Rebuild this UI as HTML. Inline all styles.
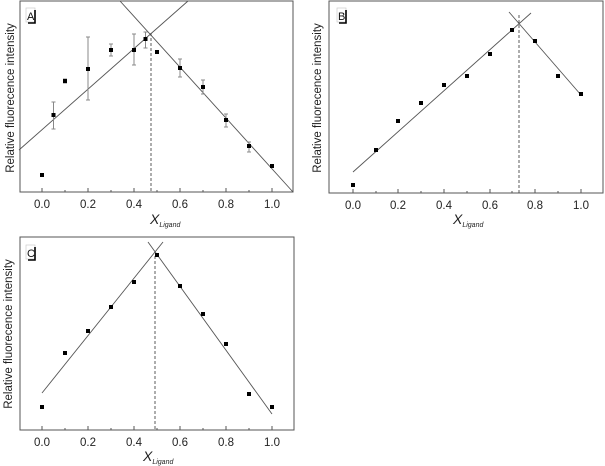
<!DOCTYPE html>
<html><head><meta charset="utf-8"><style>
html,body{margin:0;padding:0;background:#fff;}
svg{display:block;font-family:"Liberation Sans",Arial,sans-serif;}
</style></head><body>
<svg width="605" height="466" viewBox="0 0 605 466" xmlns="http://www.w3.org/2000/svg">

<!-- Panel A -->
<g>
<rect x="20" y="1" width="273" height="191" fill="none" stroke="#555" stroke-width="1"/>
<g stroke="#555" stroke-width="1">
<line x1="42" y1="192" x2="42" y2="188"/><line x1="65" y1="192" x2="65" y2="190"/>
<line x1="88" y1="192" x2="88" y2="188"/><line x1="111" y1="192" x2="111" y2="190"/>
<line x1="134" y1="192" x2="134" y2="188"/><line x1="157" y1="192" x2="157" y2="190"/>
<line x1="180" y1="192" x2="180" y2="188"/><line x1="203" y1="192" x2="203" y2="190"/>
<line x1="226" y1="192" x2="226" y2="188"/><line x1="249" y1="192" x2="249" y2="190"/>
<line x1="272" y1="192" x2="272" y2="188"/>
</g>
<g font-size="11.5" fill="#222" text-anchor="middle">
<text x="42" y="208">0.0</text><text x="88" y="208">0.2</text><text x="134" y="208">0.4</text>
<text x="180" y="208">0.6</text><text x="226" y="208">0.8</text><text x="272" y="208">1.0</text>
</g>
<text x="150" y="224" font-size="14" font-style="italic" fill="#222">X<tspan font-size="7" dy="3">Ligand</tspan></text>
<text transform="translate(14,98) rotate(-90)" font-size="11.5" fill="#222" text-anchor="middle">Relative fluorecence intensity</text>
<line x1="19" y1="150" x2="188" y2="1" stroke="#555" stroke-width="0.9"/>
<line x1="120" y1="1" x2="293" y2="192" stroke="#555" stroke-width="0.9"/>
<line x1="151" y1="33" x2="151" y2="192" stroke="#333" stroke-width="0.8" stroke-dasharray="3,2"/>
<g stroke="#888" stroke-width="1" fill="none">
<path d="M53.5 102V129M51.5 102H55.5M51.5 129H55.5"/>
<path d="M65 79V83M63 79H67M63 83H67"/>
<path d="M88 37V100M86 37H90M86 100H90"/>
<path d="M111 44V56M109 44H113M109 56H113"/>
<path d="M134 34V65M132 34H136M132 65H136"/>
<path d="M145.5 32V48M143.5 32H147.5M143.5 48H147.5"/>
<path d="M180 59V77M178 59H182M178 77H182"/>
<path d="M203 80V94M201 80H205M201 94H205"/>
<path d="M226 114V127M224 114H228M224 127H228"/>
<path d="M249 142V152M247 142H251M247 152H251"/>
</g>
<g fill="#000">
<rect x="40" y="173" width="4" height="4"/><rect x="51.5" y="113" width="4" height="4"/>
<rect x="63" y="79" width="4" height="4"/><rect x="86" y="67" width="4" height="4"/>
<rect x="109" y="48" width="4" height="4"/><rect x="132" y="48" width="4" height="4"/>
<rect x="143.5" y="37" width="4" height="4"/><rect x="155" y="50" width="4" height="4"/>
<rect x="178" y="66" width="4" height="4"/><rect x="201" y="85" width="4" height="4"/>
<rect x="224" y="118" width="4" height="4"/><rect x="247" y="144" width="4" height="4"/>
<rect x="270" y="164" width="4" height="4"/>
</g>
<rect x="26" y="8" width="9" height="14" fill="#fff" stroke="#ccc" stroke-width="0.7"/>
<text x="27" y="20" font-size="11" fill="#111">A</text>
<path d="M35 10V23H28" fill="none" stroke="#000" stroke-width="1.6"/>
</g>

<!-- Panel B -->
<g>
<rect x="329" y="1" width="274" height="192" fill="none" stroke="#555" stroke-width="1"/>
<g stroke="#555" stroke-width="1">
<line x1="353" y1="193" x2="353" y2="189"/><line x1="376" y1="193" x2="376" y2="191"/>
<line x1="398" y1="193" x2="398" y2="189"/><line x1="421" y1="193" x2="421" y2="191"/>
<line x1="444" y1="193" x2="444" y2="189"/><line x1="467" y1="193" x2="467" y2="191"/>
<line x1="490" y1="193" x2="490" y2="189"/><line x1="512" y1="193" x2="512" y2="191"/>
<line x1="535" y1="193" x2="535" y2="189"/><line x1="558" y1="193" x2="558" y2="191"/>
<line x1="581" y1="193" x2="581" y2="189"/>
</g>
<g font-size="11.5" fill="#222" text-anchor="middle">
<text x="353" y="209">0.0</text><text x="398" y="209">0.2</text><text x="444" y="209">0.4</text>
<text x="490" y="209">0.6</text><text x="535" y="209">0.8</text><text x="581" y="209">1.0</text>
</g>
<text x="453" y="224" font-size="14" font-style="italic" fill="#222">X<tspan font-size="7" dy="3">Ligand</tspan></text>
<text transform="translate(321,98) rotate(-90)" font-size="11.5" fill="#222" text-anchor="middle">Relative fluorecence intensity</text>
<line x1="353" y1="172" x2="531" y2="13" stroke="#555" stroke-width="0.9"/>
<line x1="509" y1="12" x2="581" y2="95" stroke="#555" stroke-width="0.9"/>
<line x1="519" y1="15" x2="519" y2="193" stroke="#333" stroke-width="0.8" stroke-dasharray="3,2"/>
<g fill="#000">
<rect x="351" y="183" width="4" height="4"/><rect x="374" y="148" width="4" height="4"/>
<rect x="396" y="119" width="4" height="4"/><rect x="419" y="101" width="4" height="4"/>
<rect x="442" y="83" width="4" height="4"/><rect x="465" y="74" width="4" height="4"/>
<rect x="488" y="52" width="4" height="4"/><rect x="510" y="28" width="4" height="4"/>
<rect x="533" y="39" width="4" height="4"/><rect x="556" y="74" width="4" height="4"/>
<rect x="579" y="92" width="4" height="4"/>
</g>
<rect x="337" y="8" width="9" height="14" fill="#fff" stroke="#ccc" stroke-width="0.7"/>
<text x="338" y="20" font-size="11" fill="#111">B</text>
<path d="M346 10V23H339" fill="none" stroke="#000" stroke-width="1.6"/>
</g>

<!-- Panel C -->
<g>
<rect x="20" y="237" width="274" height="193" fill="none" stroke="#555" stroke-width="1"/>
<g stroke="#555" stroke-width="1">
<line x1="42" y1="430" x2="42" y2="426"/><line x1="65" y1="430" x2="65" y2="428"/>
<line x1="88" y1="430" x2="88" y2="426"/><line x1="111" y1="430" x2="111" y2="428"/>
<line x1="134" y1="430" x2="134" y2="426"/><line x1="157" y1="430" x2="157" y2="428"/>
<line x1="180" y1="430" x2="180" y2="426"/><line x1="203" y1="430" x2="203" y2="428"/>
<line x1="226" y1="430" x2="226" y2="426"/><line x1="249" y1="430" x2="249" y2="428"/>
<line x1="272" y1="430" x2="272" y2="426"/>
</g>
<g font-size="11.5" fill="#222" text-anchor="middle">
<text x="42" y="446">0.0</text><text x="88" y="446">0.2</text><text x="134" y="446">0.4</text>
<text x="180" y="446">0.6</text><text x="226" y="446">0.8</text><text x="272" y="446">1.0</text>
</g>
<text x="143" y="461" font-size="14" font-style="italic" fill="#222">X<tspan font-size="7" dy="3">Ligand</tspan></text>
<text transform="translate(12,334) rotate(-90)" font-size="11.5" fill="#222" text-anchor="middle">Relative fluorecence intensity</text>
<line x1="42" y1="393" x2="163" y2="242" stroke="#555" stroke-width="0.9"/>
<line x1="148" y1="242" x2="272" y2="414" stroke="#555" stroke-width="0.9"/>
<line x1="155" y1="256" x2="155" y2="430" stroke="#333" stroke-width="0.8" stroke-dasharray="3,2"/>
<g fill="#000">
<rect x="40" y="405" width="4" height="4"/><rect x="63" y="351" width="4" height="4"/>
<rect x="86" y="329" width="4" height="4"/><rect x="109" y="305" width="4" height="4"/>
<rect x="132" y="280" width="4" height="4"/><rect x="155" y="253" width="4" height="4"/>
<rect x="178" y="284" width="4" height="4"/><rect x="201" y="312" width="4" height="4"/>
<rect x="224" y="342" width="4" height="4"/><rect x="247" y="392" width="4" height="4"/>
<rect x="270" y="405" width="4" height="4"/>
</g>
<rect x="26" y="245" width="9" height="14" fill="#fff" stroke="#ccc" stroke-width="0.7"/>
<text x="27" y="257" font-size="11" fill="#111">C</text>
<path d="M35 247V260H28" fill="none" stroke="#000" stroke-width="1.6"/>
</g>
</svg>
</body></html>
